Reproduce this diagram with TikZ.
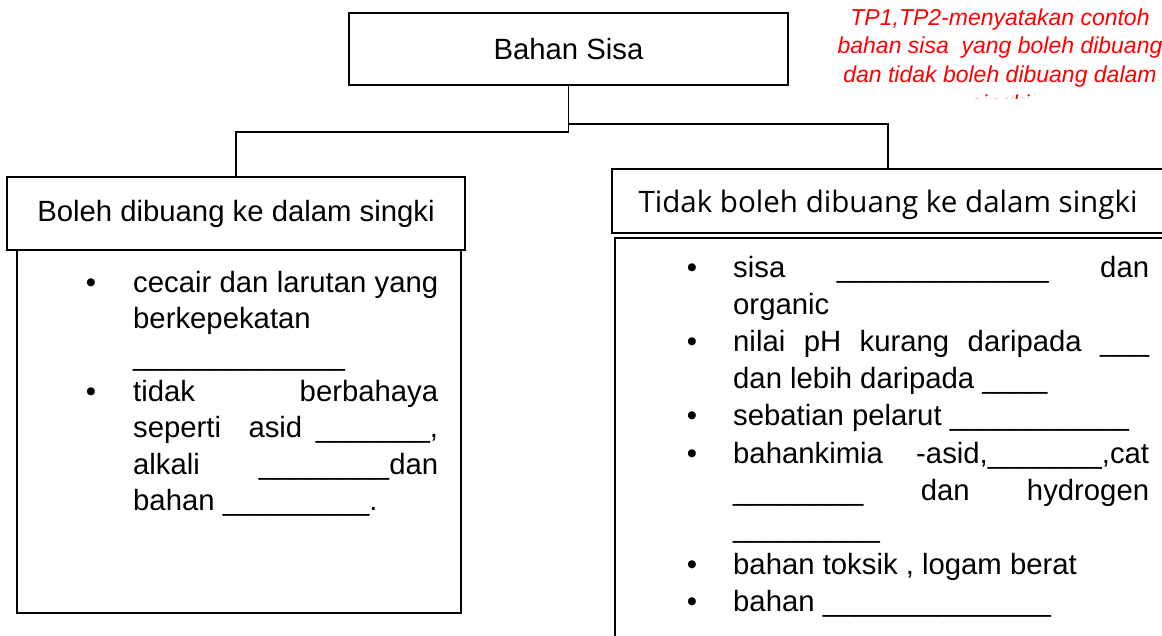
\documentclass[tikz,border=0pt]{standalone}
\usepackage{fontspec}
\setmainfont{Liberation Sans}
\newfontfamily\osans{Open Sans}
\usepackage{graphicx}
\begin{document}
\begin{tikzpicture}[x=1pt,y=-1pt,
  box/.style={draw, line width=1.7pt, fill=white, inner sep=0pt, rectangle},
  body/.style={anchor=base west, inner sep=0pt, font=\fontsize{29.3}{35}\selectfont},
  dot/.style={anchor=base, inner sep=0pt, font=\fontsize{29.3}{35}\selectfont},
  note/.style={anchor=base, inner sep=0pt, text=red, font=\fontsize{23}{28.5}\selectfont\itshape}]
\useasboundingbox (0,0) rectangle (1162,635);
\clip (0,0) rectangle (1162,635);
% boxes
\node[box, minimum width=439pt, minimum height=72pt, font=\fontsize{29.3}{35}\selectfont] (top) at (568.5,49) {Bahan Sisa};
\node[box, minimum width=444pt, minimum height=366pt] (lbody) at (239,430) {};
\node[box, minimum width=548pt, minimum height=422pt] (rbody) at (889,449) {};
\node[box, minimum width=458pt, minimum height=73pt, font=\fontsize{29.3}{35}\selectfont] (lhead) at (236,213.5) {Boleh dibuang ke dalam singki};
\node[box, minimum width=552pt, minimum height=64pt] (rhead) at (888,201) {\raisebox{-3.5pt}[\height][\depth]{\resizebox{499pt}{!}{\osans Tidak boleh dibuang ke dalam singki}}};
% connectors
\draw[line width=1.7pt] (top.south) -- ([yshift=-46pt]top.south) -| (lhead.north);
\draw[line width=1.7pt] ([yshift=-38pt]top.south) -| (rhead.north);
% red note
\begin{scope}
\clip (800,0) rectangle (1162,98);
\node[note] (n1) at (1000,25) {TP1,TP2-menyatakan contoh};
\node[note] (n2) at (1000,53.5) {bahan sisa\ \ yang boleh dibuang};
\node[note] (n3) at (1000,82) {dan tidak boleh dibuang dalam};
\node[note] (n4) at (1000,111) {singki};
\end{scope}
% left list
\node[dot] (lb1) at (91,292.5) {•};
\node[dot] (lb2) at (91,401.3) {•};
\node[body] (l1) at (133,292.5) {\makebox[305pt][s]{cecair dan larutan yang}};
\node[body] (l2) at (133,328.8) {berkepekatan};
\node[body] (l3) at (133,365) {\_\_\_\_\_\_\_\_\_\_\_\_\_};
\node[body] (l4) at (133,401.3) {\hbox to 305pt{tidak\hfill berbahaya}};
\node[body] (l5) at (133,437.6) {\hbox to 305pt{seperti\hfil\hfil asid\hfil\_\_\_\_\_\_\_,}};
\node[body] (l6) at (133,474) {\hbox to 305pt{alkali\hfill\_\_\_\_\_\_\_\_dan}};
\node[body] (l7) at (133,510) {bahan \_\_\_\_\_\_\_\_\_.};
% right list
\node[dot] (rb1) at (692,277) {•};
\node[dot] (rb2) at (692,351.4) {•};
\node[dot] (rb3) at (692,425.8) {•};
\node[dot] (rb4) at (692,463) {•};
\node[dot] (rb5) at (692,574.6) {•};
\node[dot] (rb6) at (692,611.8) {•};
\node[body] (r1) at (733,277) {\hbox to 416pt{sisa\hfil\_\_\_\_\_\_\_\_\_\_\_\_\_\hfil dan}};
\node[body] (r2) at (733,314.2) {organic};
\node[body] (r3) at (733,351.4) {\makebox[416pt][s]{nilai pH kurang daripada \_\_\_}};
\node[body] (r4) at (733,388.6) {dan lebih daripada \_\_\_\_};
\node[body] (r5) at (733,425.8) {sebatian pelarut \_\_\_\_\_\_\_\_\_\_\_};
\node[body] (r6) at (733,463) {\hbox to 416pt{bahankimia\hfil -asid,\_\_\_\_\_\_\_,cat}};
\node[body] (r7) at (733,500.2) {\hbox to 416pt{\_\_\_\_\_\_\_\_\hfil dan\hfil hydrogen}};
\node[body] (r8) at (733,537.4) {\_\_\_\_\_\_\_\_\_};
\node[body] (r9) at (733,574.6) {bahan toksik , logam berat};
\node[body] (r10) at (733,611.8) {bahan \_\_\_\_\_\_\_\_\_\_\_\_\_\_};
\end{tikzpicture}
\end{document}
